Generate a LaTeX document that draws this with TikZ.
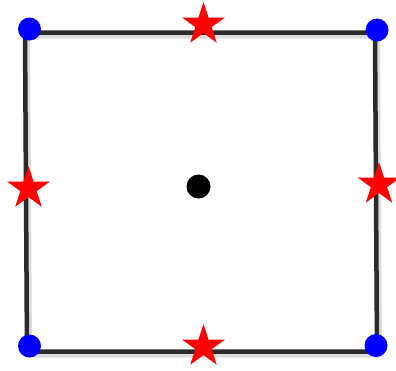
\documentclass[tikz,border=0pt]{standalone}
\usepackage{xcolor}
\usepackage{tikz}
\usetikzlibrary{shapes.geometric}
\definecolor{framec}{HTML}{2B2B2B}
\definecolor{dotc}{HTML}{0000FF}
\definecolor{starc}{HTML}{FF0000}
\tikzset{
  frame/.style={framec,line width=4.5pt,line join=miter},
  shadowline/.style={black!30,line width=7pt,opacity=0.45},
  cornerdot/.style={circle,fill=dotc,inner sep=0pt,minimum size=23pt},
  midstar/.style={star,star points=5,star point ratio=2.618,fill=starc,inner sep=0pt,minimum size=45pt},
  centerdot/.style={circle,fill=black,inner sep=0pt,minimum size=24pt}
}

\begin{document}
\begin{tikzpicture}[x=1pt,y=-1pt]
\useasboundingbox (0,0) rectangle (396,370);
% frame corners
\coordinate (ftl) at (25,32.5);
\coordinate (ftr) at (375,32.5);
\coordinate (fbr) at (377,351.5);
\coordinate (fbl) at (27,351.5);
\draw[shadowline,transform canvas={shift={(1.5pt,-2.5pt)}}] (ftl) -- (ftr) -- (fbr) -- (fbl) -- cycle;
\draw[frame] (ftl) -- (ftr) -- (fbr) -- (fbl) -- cycle;
% corner dots
\node[cornerdot] (ctl) at (29.5,29) {};
\node[cornerdot] (ctr) at (377,30) {};
\node[cornerdot] (cbl) at (29.5,346) {};
\node[cornerdot] (cbr) at (376,345.5) {};
% stars on the sides
\node[midstar] (stop) at (203.5,24.5) {};
\node[midstar] (sleft) at (28.5,188.5) {};
\node[midstar] (sright) at (379,184.5) {};
\node[midstar] (sbottom) at (203.5,346.5) {};
% centre
\node[centerdot] (mid) at (198.5,186.5) {};
\end{tikzpicture}
\end{document}
